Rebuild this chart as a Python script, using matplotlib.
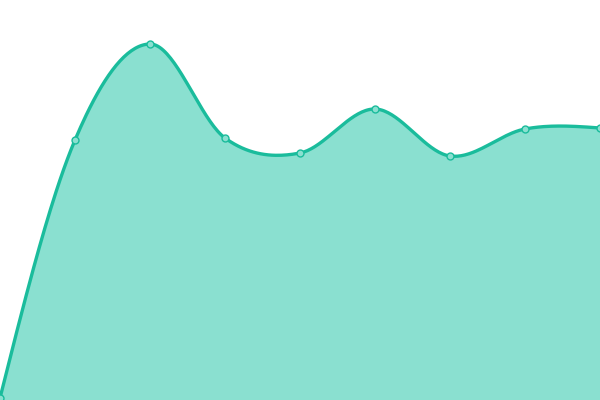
import matplotlib
matplotlib.use("Agg")
import matplotlib.pyplot as plt
import numpy as np

# values (y axis 0..400, x = category index)
categories = list(range(9))
values = [2, 260, 356, 262, 247, 291, 244, 271, 272]

line_color = "#1abc9c"
fill_color = "#8ae0d0"


def smooth(xs, ys, n=40):
    # cubic hermite through the points, catmull-rom tangents, free ends
    xs = np.asarray(xs, float)
    ys = np.asarray(ys, float)
    m = np.zeros_like(ys)
    m[1:-1] = (ys[2:] - ys[:-2]) / 2
    m[0] = 1.5 * (ys[1] - ys[0]) - 0.5 * m[1]
    m[-1] = 1.5 * (ys[-1] - ys[-2]) - 0.5 * m[-2]
    out_x, out_y = [], []
    for i in range(len(xs) - 1):
        t = np.linspace(0, 1, n, endpoint=False)
        h00 = 2 * t**3 - 3 * t**2 + 1
        h10 = t**3 - 2 * t**2 + t
        h01 = -2 * t**3 + 3 * t**2
        h11 = t**3 - t**2
        out_x.extend(xs[i] + t * (xs[i + 1] - xs[i]))
        out_y.extend(h00 * ys[i] + h10 * m[i] + h01 * ys[i + 1] + h11 * m[i + 1])
    out_x.append(xs[-1])
    out_y.append(ys[-1])
    return np.array(out_x), np.array(out_y)


fig = plt.figure(figsize=(6, 4), dpi=100)
ax = fig.add_axes([0, 0, 1, 1])

sx, sy = smooth(categories, values)
ax.fill_between(sx, sy, 0, color=fill_color, linewidth=0)
ax.plot(sx, sy, color=line_color, linewidth=2.4, solid_capstyle="round")
ax.plot(categories, values, "o", markersize=5, markerfacecolor=fill_color,
        markeredgecolor=line_color, markeredgewidth=1.0, clip_on=False)

ax.set_xlim(0, 8)
ax.set_ylim(0, 400)
ax.axis("off")

fig.savefig("out.png", dpi=100)
